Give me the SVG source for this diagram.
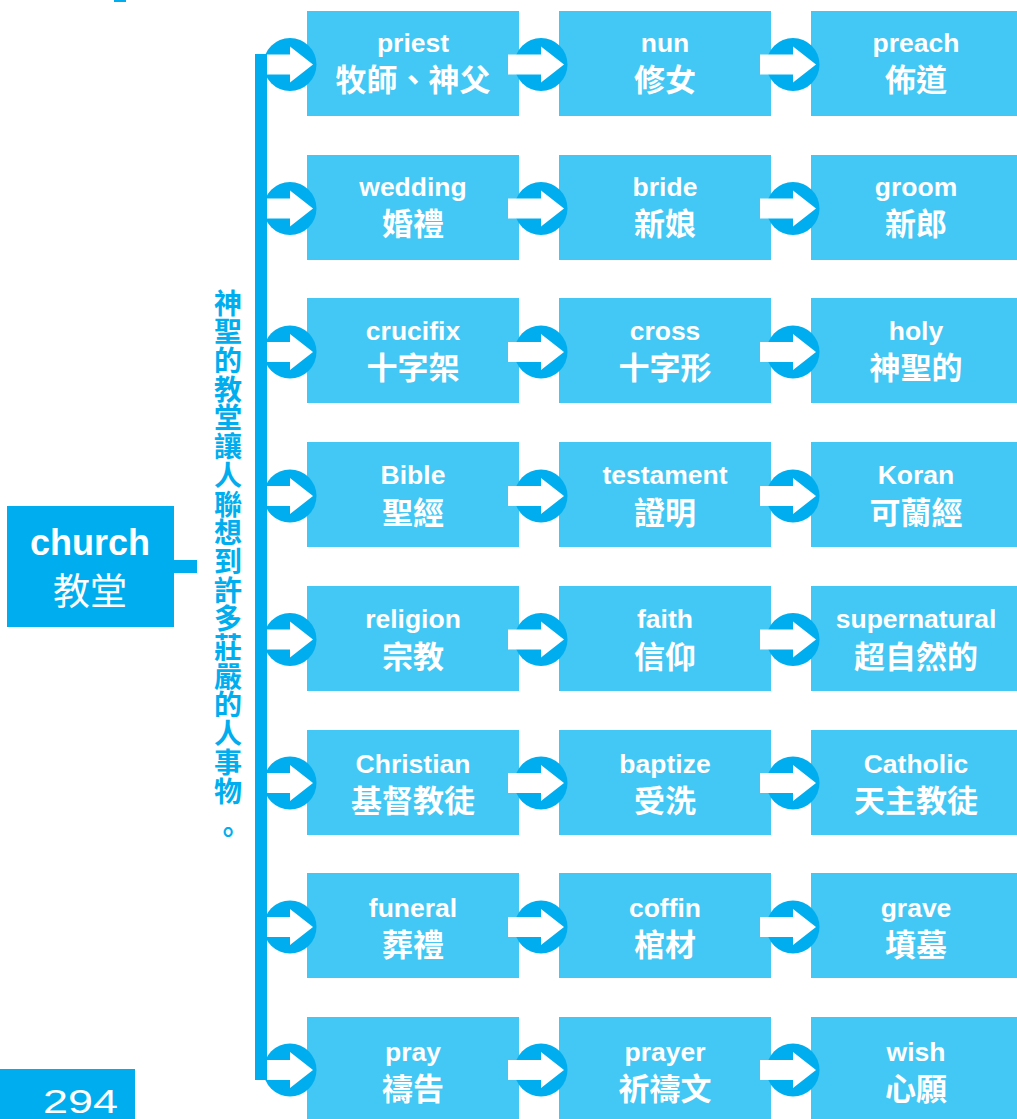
<svg xmlns="http://www.w3.org/2000/svg" xmlns:xlink="http://www.w3.org/1999/xlink" width="1017" height="1119" viewBox="0 0 1017 1119">
<style>
.box{fill:#43C7F4}
.dark{fill:#00AEEF}
.en{font-family:"Liberation Sans",Arial,"Noto Sans CJK TC",sans-serif;font-weight:700;font-size:26.5px;fill:#fff;text-anchor:middle}
.zh{font-family:"Noto Sans CJK TC","Noto Sans CJK SC",sans-serif;font-weight:700;font-size:31px;fill:#fff;text-anchor:middle}
.vt{font-family:"Noto Sans CJK TC","Noto Sans CJK SC",sans-serif;font-weight:700;font-size:28px;fill:#00AEEF;writing-mode:vertical-rl;letter-spacing:0.7px}
</style>
<defs>
<g id="arrS"><circle r="26.5" fill="#00AEEF"/><path d="M-23,-10H0V-18L23,0L0,18V10H-23Z" fill="#fff"/></g>
<g id="arrL"><circle r="26.5" fill="#00AEEF"/><path d="M-33,-10H0V-18L23,0L0,18V10H-33Z" fill="#fff"/></g>
</defs>
<rect x="114" y="0" width="12" height="2" fill="#00AEEF"/>
<g id="church">
<rect class="dark" x="7" y="506" width="167" height="121"/>
<text x="90" y="555" font-family="Liberation Sans,Arial,sans-serif" font-weight="700" font-size="36" fill="#fff" text-anchor="middle">church</text>
<text x="90" y="605" font-family="Noto Sans CJK TC,sans-serif" font-size="37" fill="#fff" text-anchor="middle">教堂</text>
</g>
<g id="caption">
<text class="vt" x="228" y="289">神聖的教堂讓人聯想到許多莊嚴的人事物<tspan dy="12">。</tspan></text>
</g>
<g id="page">
<rect class="dark" x="0" y="1069" width="135" height="50"/>
<text x="43" y="1112.5" font-family="Liberation Sans,Arial,sans-serif" font-size="34" fill="#fff" textLength="75" lengthAdjust="spacingAndGlyphs">294</text>
</g>
<g id="nodes">
<g id="n-priest"><rect class="box" x="307" y="11" width="212" height="105"/><text class="en" x="413" y="51.5">priest</text><text class="zh" x="413" y="91">牧師、神父</text></g>
<g id="n-nun"><rect class="box" x="559" y="11" width="212" height="105"/><text class="en" x="665" y="51.5">nun</text><text class="zh" x="665" y="91">修女</text></g>
<g id="n-preach"><rect class="box" x="811" y="11" width="212" height="105"/><text class="en" x="916" y="51.5">preach</text><text class="zh" x="916" y="91">佈道</text></g>

<g id="n-wedding"><rect class="box" x="307" y="155" width="212" height="105"/><text class="en" x="413" y="195.7">wedding</text><text class="zh" x="413" y="235.2">婚禮</text></g>
<g id="n-bride"><rect class="box" x="559" y="155" width="212" height="105"/><text class="en" x="665" y="195.7">bride</text><text class="zh" x="665" y="235.2">新娘</text></g>
<g id="n-groom"><rect class="box" x="811" y="155" width="212" height="105"/><text class="en" x="916" y="195.7">groom</text><text class="zh" x="916" y="235.2">新郎</text></g>

<g id="n-crucifix"><rect class="box" x="307" y="298" width="212" height="105"/><text class="en" x="413" y="339.9">crucifix</text><text class="zh" x="413" y="379.4">十字架</text></g>
<g id="n-cross"><rect class="box" x="559" y="298" width="212" height="105"/><text class="en" x="665" y="339.9">cross</text><text class="zh" x="665" y="379.4">十字形</text></g>
<g id="n-holy"><rect class="box" x="811" y="298" width="212" height="105"/><text class="en" x="916" y="339.9">holy</text><text class="zh" x="916" y="379.4">神聖的</text></g>

<g id="n-bible"><rect class="box" x="307" y="442" width="212" height="105"/><text class="en" x="413" y="484.1">Bible</text><text class="zh" x="413" y="523.6">聖經</text></g>
<g id="n-testament"><rect class="box" x="559" y="442" width="212" height="105"/><text class="en" x="665" y="484.1">testament</text><text class="zh" x="665" y="523.6">證明</text></g>
<g id="n-koran"><rect class="box" x="811" y="442" width="212" height="105"/><text class="en" x="916" y="484.1">Koran</text><text class="zh" x="916" y="523.6">可蘭經</text></g>

<g id="n-religion"><rect class="box" x="307" y="586" width="212" height="105"/><text class="en" x="413" y="628.3">religion</text><text class="zh" x="413" y="667.8">宗教</text></g>
<g id="n-faith"><rect class="box" x="559" y="586" width="212" height="105"/><text class="en" x="665" y="628.3">faith</text><text class="zh" x="665" y="667.8">信仰</text></g>
<g id="n-supernatural"><rect class="box" x="811" y="586" width="212" height="105"/><text class="en" x="916" y="628.3">supernatural</text><text class="zh" x="916" y="667.8">超自然的</text></g>

<g id="n-christian"><rect class="box" x="307" y="730" width="212" height="105"/><text class="en" x="413" y="772.5">Christian</text><text class="zh" x="413" y="812">基督教徒</text></g>
<g id="n-baptize"><rect class="box" x="559" y="730" width="212" height="105"/><text class="en" x="665" y="772.5">baptize</text><text class="zh" x="665" y="812">受洗</text></g>
<g id="n-catholic"><rect class="box" x="811" y="730" width="212" height="105"/><text class="en" x="916" y="772.5">Catholic</text><text class="zh" x="916" y="812">天主教徒</text></g>

<g id="n-funeral"><rect class="box" x="307" y="873" width="212" height="105"/><text class="en" x="413" y="916.7">funeral</text><text class="zh" x="413" y="956.2">葬禮</text></g>
<g id="n-coffin"><rect class="box" x="559" y="873" width="212" height="105"/><text class="en" x="665" y="916.7">coffin</text><text class="zh" x="665" y="956.2">棺材</text></g>
<g id="n-grave"><rect class="box" x="811" y="873" width="212" height="105"/><text class="en" x="916" y="916.7">grave</text><text class="zh" x="916" y="956.2">墳墓</text></g>

<g id="n-pray"><rect class="box" x="307" y="1017" width="212" height="105"/><text class="en" x="413" y="1060.9">pray</text><text class="zh" x="413" y="1100.4">禱告</text></g>
<g id="n-prayer"><rect class="box" x="559" y="1017" width="212" height="105"/><text class="en" x="665" y="1060.9">prayer</text><text class="zh" x="665" y="1100.4">祈禱文</text></g>
<g id="n-wish"><rect class="box" x="811" y="1017" width="212" height="105"/><text class="en" x="916" y="1060.9">wish</text><text class="zh" x="916" y="1100.4">心願</text></g>
</g>
<g id="connectors">
<rect class="dark" x="174" y="560" width="23" height="13"/>
<rect class="dark" x="255" y="54" width="12" height="1026"/>
<use xlink:href="#arrS" x="290" y="64.5"/><use xlink:href="#arrL" x="541" y="64.5"/><use xlink:href="#arrL" x="793" y="64.5"/>
<use xlink:href="#arrS" x="290" y="208.5"/><use xlink:href="#arrL" x="541" y="208.5"/><use xlink:href="#arrL" x="793" y="208.5"/>
<use xlink:href="#arrS" x="290" y="352"/><use xlink:href="#arrL" x="541" y="352"/><use xlink:href="#arrL" x="793" y="352"/>
<use xlink:href="#arrS" x="290" y="496"/><use xlink:href="#arrL" x="541" y="496"/><use xlink:href="#arrL" x="793" y="496"/>
<use xlink:href="#arrS" x="290" y="639.5"/><use xlink:href="#arrL" x="541" y="639.5"/><use xlink:href="#arrL" x="793" y="639.5"/>
<use xlink:href="#arrS" x="290" y="783"/><use xlink:href="#arrL" x="541" y="783"/><use xlink:href="#arrL" x="793" y="783"/>
<use xlink:href="#arrS" x="290" y="927"/><use xlink:href="#arrL" x="541" y="927"/><use xlink:href="#arrL" x="793" y="927"/>
<use xlink:href="#arrS" x="290" y="1070"/><use xlink:href="#arrL" x="541" y="1070"/><use xlink:href="#arrL" x="793" y="1070"/>
</g>
</svg>
